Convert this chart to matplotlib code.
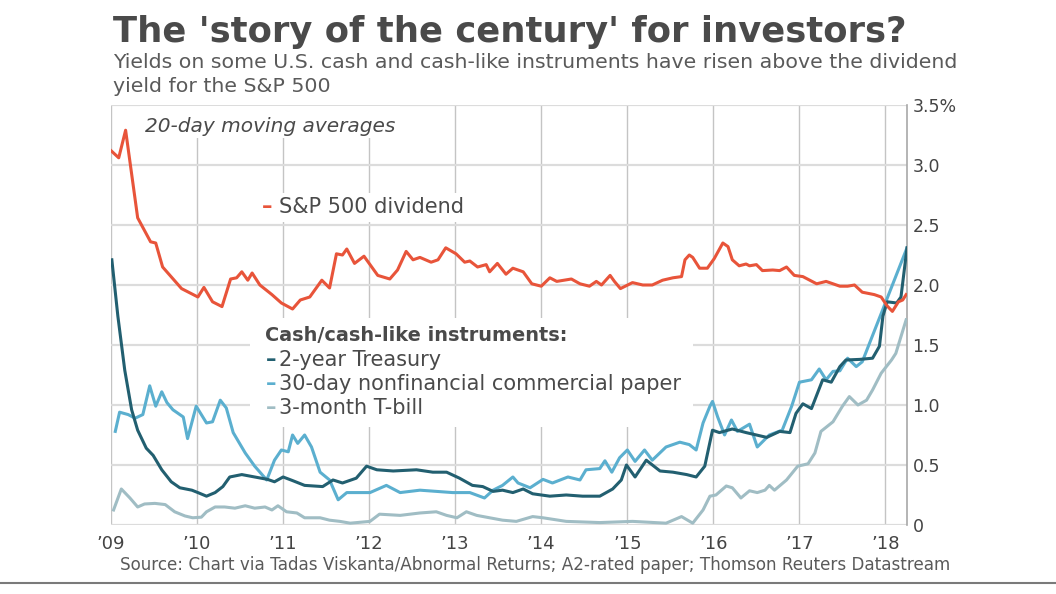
import matplotlib
matplotlib.use("Agg")
import matplotlib.pyplot as plt
from matplotlib.lines import Line2D
from matplotlib.patches import Rectangle

# 20-day moving averages (decimal years, percent)
sp_years = [2009.00, 2009.09, 2009.17, 2009.31, 2009.46, 2009.52, 2009.60, 2009.82, 2010.01, 2010.08,
            2010.18, 2010.29, 2010.39, 2010.46, 2010.52, 2010.59, 2010.64, 2010.73, 2010.87, 2010.98,
            2011.11, 2011.20, 2011.31, 2011.45, 2011.54, 2011.62, 2011.69, 2011.74, 2011.83, 2011.94,
            2012.10, 2012.24, 2012.33, 2012.43, 2012.51, 2012.59, 2012.72, 2012.80, 2012.89, 2013.01,
            2013.11, 2013.17, 2013.26, 2013.36, 2013.40, 2013.49, 2013.59, 2013.67, 2013.79, 2013.89,
            2014.00, 2014.10, 2014.18, 2014.35, 2014.45, 2014.56, 2014.64, 2014.70, 2014.80, 2014.85,
            2014.92, 2015.06, 2015.18, 2015.29, 2015.41, 2015.53, 2015.63, 2015.67, 2015.72, 2015.76,
            2015.84, 2015.93, 2016.01, 2016.11, 2016.17, 2016.22, 2016.30, 2016.38, 2016.42, 2016.50,
            2016.57, 2016.69, 2016.77, 2016.85, 2016.94, 2017.04, 2017.20, 2017.31, 2017.47, 2017.56,
            2017.64, 2017.73, 2017.87, 2017.95, 2018.02, 2018.08, 2018.15, 2018.20, 2018.24]
sp_yield = [3.12, 3.06, 3.29, 2.56, 2.36, 2.35, 2.15, 1.97, 1.90, 1.98,
            1.86, 1.82, 2.05, 2.06, 2.11, 2.04, 2.10, 2.00, 1.92, 1.85,
            1.80, 1.875, 1.90, 2.04, 1.975, 2.26, 2.25, 2.30, 2.18, 2.24,
            2.08, 2.05, 2.125, 2.28, 2.21, 2.23, 2.19, 2.21, 2.31, 2.26,
            2.19, 2.20, 2.15, 2.17, 2.11, 2.18, 2.09, 2.14, 2.11, 2.01,
            1.99, 2.06, 2.03, 2.05, 2.01, 1.99, 2.03, 2.00, 2.08, 2.03,
            1.97, 2.02, 2.00, 2.00, 2.04, 2.06, 2.07, 2.21, 2.25, 2.23,
            2.14, 2.14, 2.22, 2.35, 2.32, 2.21, 2.16, 2.175, 2.16, 2.17,
            2.12, 2.125, 2.12, 2.15, 2.08, 2.07, 2.01, 2.03, 1.99, 1.99,
            2.00, 1.94, 1.92, 1.90, 1.825, 1.78, 1.86, 1.875, 1.92]

t2_years = [2009.01, 2009.08, 2009.16, 2009.24, 2009.31, 2009.41, 2009.49, 2009.59, 2009.70, 2009.80,
            2009.94, 2010.01, 2010.11, 2010.21, 2010.30, 2010.38, 2010.52, 2010.67, 2010.82, 2010.90,
            2011.00, 2011.11, 2011.25, 2011.46, 2011.58, 2011.69, 2011.85, 2011.97, 2012.09, 2012.28,
            2012.55, 2012.74, 2012.90, 2013.05, 2013.20, 2013.32, 2013.44, 2013.55, 2013.67, 2013.79,
            2013.90, 2014.10, 2014.29, 2014.48, 2014.68, 2014.83, 2014.93, 2014.99, 2015.09, 2015.22,
            2015.38, 2015.53, 2015.69, 2015.80, 2015.90, 2015.99, 2016.07, 2016.22, 2016.38, 2016.62,
            2016.77, 2016.89, 2016.96, 2017.04, 2017.14, 2017.27, 2017.37, 2017.47, 2017.54, 2017.70,
            2017.85, 2017.93, 2017.97, 2018.02, 2018.13, 2018.18, 2018.25]
t2_yield = [2.21, 1.74, 1.29, 0.96, 0.79, 0.64, 0.58, 0.46, 0.36, 0.31,
            0.29, 0.27, 0.24, 0.27, 0.32, 0.40, 0.42, 0.40, 0.38, 0.36,
            0.40, 0.37, 0.33, 0.32, 0.375, 0.35, 0.39, 0.49, 0.46, 0.45,
            0.46, 0.44, 0.44, 0.39, 0.33, 0.32, 0.28, 0.29, 0.27, 0.30,
            0.26, 0.24, 0.25, 0.24, 0.24, 0.30, 0.375, 0.50, 0.40, 0.54,
            0.45, 0.44, 0.42, 0.40, 0.49, 0.79, 0.77, 0.80, 0.77, 0.73,
            0.78, 0.77, 0.93, 1.01, 0.97, 1.21, 1.19, 1.32, 1.375, 1.38,
            1.39, 1.49, 1.74, 1.86, 1.85, 1.90, 2.31]

cp_years = [2009.05, 2009.10, 2009.20, 2009.28, 2009.37, 2009.45, 2009.52, 2009.59, 2009.65, 2009.72,
            2009.84, 2009.89, 2009.99, 2010.11, 2010.18, 2010.27, 2010.34, 2010.42, 2010.56, 2010.67,
            2010.81, 2010.90, 2010.98, 2011.06, 2011.11, 2011.17, 2011.25, 2011.33, 2011.43, 2011.54,
            2011.64, 2011.74, 2011.85, 2012.01, 2012.20, 2012.36, 2012.59, 2012.78, 2012.97, 2013.17,
            2013.34, 2013.44, 2013.55, 2013.67, 2013.73, 2013.87, 2014.02, 2014.13, 2014.31, 2014.45,
            2014.52, 2014.68, 2014.74, 2014.82, 2014.91, 2015.00, 2015.09, 2015.20, 2015.29, 2015.45,
            2015.61, 2015.72, 2015.80, 2015.88, 2015.96, 2015.99, 2016.05, 2016.13, 2016.21, 2016.28,
            2016.42, 2016.51, 2016.65, 2016.80, 2016.91, 2017.00, 2017.14, 2017.23, 2017.31, 2017.39,
            2017.47, 2017.56, 2017.66, 2017.73, 2018.25]
cp_yield = [0.78, 0.94, 0.92, 0.89, 0.92, 1.16, 0.99, 1.11, 1.02, 0.96,
            0.90, 0.72, 0.99, 0.85, 0.86, 1.04, 0.975, 0.77, 0.60, 0.49,
            0.375, 0.54, 0.625, 0.61, 0.75, 0.68, 0.75, 0.65, 0.44, 0.375,
            0.21, 0.27, 0.27, 0.27, 0.33, 0.27, 0.29, 0.28, 0.27, 0.27,
            0.225, 0.29, 0.33, 0.40, 0.35, 0.31, 0.38, 0.35, 0.40, 0.375,
            0.46, 0.47, 0.535, 0.44, 0.56, 0.625, 0.53, 0.625, 0.54, 0.65,
            0.69, 0.67, 0.625, 0.85, 0.99, 1.03, 0.90, 0.75, 0.875, 0.78,
            0.84, 0.65, 0.75, 0.79, 0.99, 1.19, 1.21, 1.30, 1.21, 1.28,
            1.285, 1.39, 1.32, 1.36, 2.31]

tb_years = [2009.03, 2009.12, 2009.22, 2009.31, 2009.39, 2009.51, 2009.63, 2009.74, 2009.86, 2009.95,
            2010.05, 2010.11, 2010.21, 2010.32, 2010.44, 2010.56, 2010.67, 2010.79, 2010.87, 2010.94,
            2011.04, 2011.16, 2011.25, 2011.43, 2011.54, 2011.66, 2011.78, 2012.01, 2012.12, 2012.36,
            2012.59, 2012.78, 2012.90, 2013.02, 2013.13, 2013.25, 2013.40, 2013.55, 2013.71, 2013.90,
            2014.02, 2014.29, 2014.68, 2015.06, 2015.45, 2015.63, 2015.76, 2015.88, 2015.96, 2016.03,
            2016.15, 2016.22, 2016.32, 2016.42, 2016.51, 2016.60, 2016.65, 2016.71, 2016.85, 2016.98,
            2017.10, 2017.18, 2017.25, 2017.39, 2017.50, 2017.58, 2017.68, 2017.78, 2017.85, 2017.95,
            2018.07, 2018.12, 2018.18, 2018.24]
tb_yield = [0.125, 0.30, 0.225, 0.15, 0.175, 0.18, 0.17, 0.11, 0.075, 0.06,
            0.065, 0.11, 0.15, 0.15, 0.14, 0.16, 0.14, 0.15, 0.125, 0.16,
            0.11, 0.10, 0.06, 0.06, 0.04, 0.03, 0.015, 0.03, 0.09, 0.08,
            0.10, 0.11, 0.08, 0.06, 0.11, 0.08, 0.06, 0.04, 0.03, 0.07,
            0.06, 0.03, 0.02, 0.03, 0.015, 0.07, 0.015, 0.125, 0.24, 0.25,
            0.325, 0.31, 0.225, 0.285, 0.27, 0.29, 0.33, 0.29, 0.375, 0.49,
            0.51, 0.60, 0.78, 0.86, 0.99, 1.07, 1.00, 1.04, 1.125, 1.265,
            1.375, 1.43, 1.57, 1.71]

year_ticks = list(range(2009, 2019))
year_labels = ["\u2019%02d" % (y % 100) for y in year_ticks]
y_ticks = [0, 0.5, 1.0, 1.5, 2.0, 2.5, 3.0, 3.5]
y_labels = ["0", "0.5", "1.0", "1.5", "2.0", "2.5", "3.0", "3.5%"]

RED = "#e8543a"
DARK = "#225f70"
LIGHT = "#5bafcf"
GREY = "#a0bdc4"
TEXT = "#4a4a4a"

fig = plt.figure(figsize=(10.56, 5.94), dpi=100)
ax = fig.add_axes([0.1051, 0.1162, 0.7538, 0.7070])

ax.plot(tb_years, tb_yield, color=GREY, lw=2.2, solid_joinstyle="round", zorder=4)
ax.plot(cp_years, cp_yield, color=LIGHT, lw=2.2, solid_joinstyle="round", zorder=5)
ax.plot(t2_years, t2_yield, color=DARK, lw=2.2, solid_joinstyle="round", zorder=6)
ax.plot(sp_years, sp_yield, color=RED, lw=2.2, solid_joinstyle="round", zorder=6)

ax.set_xlim(2009, 2018.25)
ax.set_ylim(0, 3.5)
ax.set_xticks(year_ticks)
ax.set_xticklabels(year_labels)
ax.set_yticks(y_ticks)
ax.set_yticklabels(y_labels)
ax.yaxis.tick_right()
ax.tick_params(axis="y", length=0, pad=4, labelsize=12.5, labelcolor="#444444")
ax.tick_params(axis="x", length=0, pad=7, labelsize=13, labelcolor="#444444")

ax.grid(axis="y", color="#dcdcdc", lw=1.6)
ax.grid(axis="x", color="#c4c4c4", lw=1.0)
ax.set_axisbelow(True)
for s in ["top", "left", "bottom"]:
    ax.spines[s].set_visible(False)
ax.spines["right"].set_color("#a8a8a8")
ax.spines["right"].set_linewidth(1.2)

# white backing boxes behind the labels (they cut the gridlines)
for x0, y0, w, h in [(0.036, 0.921, 0.327, 0.076),
                     (0.181, 0.721, 0.270, 0.069),
                     (0.1746, 0.233, 0.556, 0.260)]:
    ax.add_patch(Rectangle((x0, y0), w, h, transform=ax.transAxes,
                           facecolor="white", edgecolor="none", zorder=2))

ax.text(0.0427, 0.95, "20-day moving averages", transform=ax.transAxes,
        fontsize=14.5, style="italic", color=TEXT, va="center", zorder=3)

ax.text(0.19, 0.757, "\u2013", transform=ax.transAxes, fontsize=15,
        fontweight="bold", color=RED, va="center", zorder=3)
ax.text(0.211, 0.757, "S&P 500 dividend", transform=ax.transAxes,
        fontsize=15, color=TEXT, va="center", zorder=3)

ax.text(0.1935, 0.45, "Cash/cash-like instruments:", transform=ax.transAxes,
        fontsize=13.9, fontweight="bold", color=TEXT, va="center", zorder=3)
legend_rows = [("2-year Treasury", DARK, 0.393),
               ("30-day nonfinancial commercial paper", LIGHT, 0.336),
               ("3-month T-bill", GREY, 0.279)]
for label, color, yy in legend_rows:
    ax.text(0.194, yy, "\u2013", transform=ax.transAxes, fontsize=15,
            fontweight="bold", color=color, va="center", zorder=3)
    ax.text(0.211, yy, label, transform=ax.transAxes, fontsize=15,
            color=TEXT, va="center", zorder=3)

fig.text(0.107, 0.9285, "The 'story of the century' for investors?",
         fontweight="bold", fontsize=25.5, color=TEXT, va="baseline")
fig.text(0.107, 0.8855,
         "Yields on some U.S. cash and cash-like instruments have risen above the dividend",
         fontsize=14.75, color="#5a5a5a", va="baseline")
fig.text(0.107, 0.8451, "yield for the S&P 500",
         fontsize=14.75, color="#5a5a5a", va="baseline")
fig.text(0.1136, 0.0404,
         "Source: Chart via Tadas Viskanta/Abnormal Returns; A2-rated paper; Thomson Reuters Datastream",
         fontsize=12.05, color="#5a5a5a", va="baseline")

fig.add_artist(Line2D([0, 1], [0.0185, 0.0185], transform=fig.transFigure,
                      color="#7a7a7a", lw=1.5))

fig.savefig("out.png", dpi=100, facecolor="white")
